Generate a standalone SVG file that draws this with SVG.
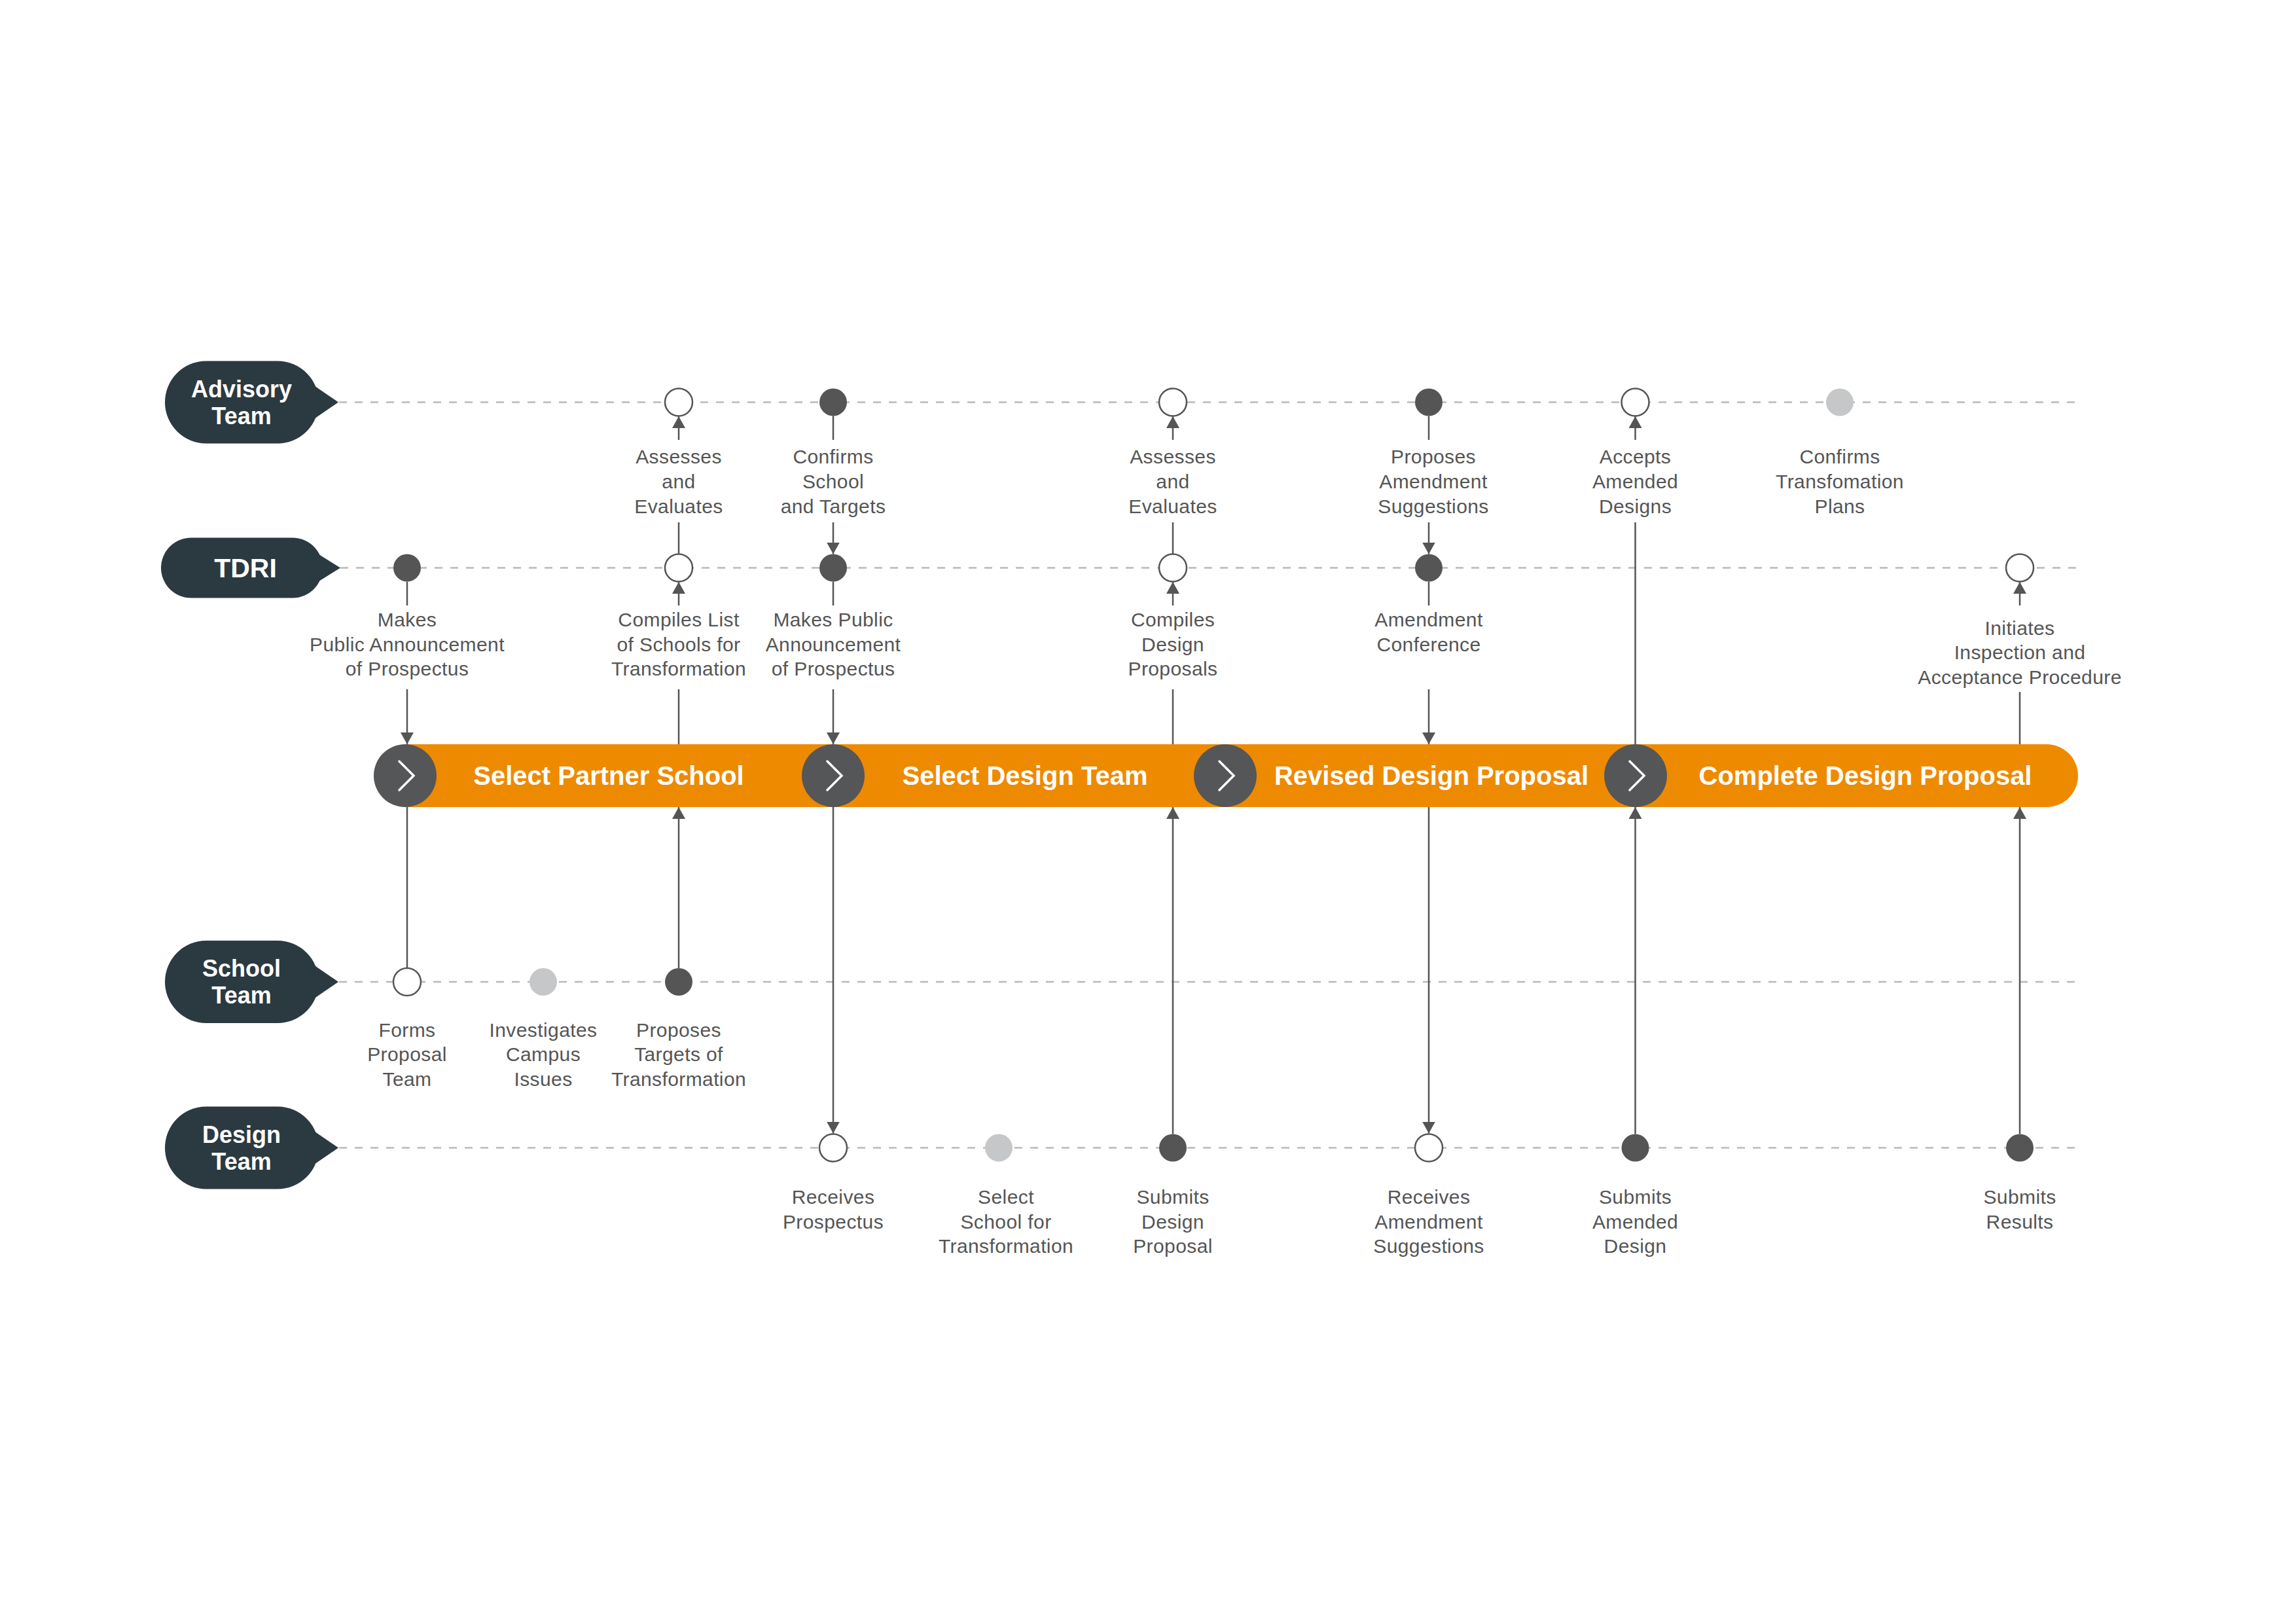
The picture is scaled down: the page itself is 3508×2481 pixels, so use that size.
<svg xmlns="http://www.w3.org/2000/svg" width="3508" height="2481" viewBox="0 0 3508 2481">
<style>
.lane{stroke:#b9b9b9;stroke-width:2.5;stroke-dasharray:12 12;fill:none}
.pill{fill:#2b3a41}
.pt{font-family:"Liberation Sans",Arial,sans-serif;font-weight:bold;fill:#ffffff;text-anchor:middle}
.lbl{font-family:"Liberation Sans",Arial,sans-serif;font-size:30px;fill:#555555;text-anchor:middle;letter-spacing:0.4px}
.hol{fill:#ffffff;stroke:#555555;stroke-width:2.5}
.drk{fill:#555555}
.gry{fill:#c6c7c8}
.con{stroke:#555555;stroke-width:2.5;fill:none}
.arr{marker-end:url(#ah)}
.bar{fill:#ee8a00}
.bc{fill:#555657}
.chev{fill:none;stroke:#ffffff;stroke-width:3.5;stroke-linecap:round;stroke-linejoin:miter}
.ph{font-family:"Liberation Sans",Arial,sans-serif;font-weight:bold;font-size:40px;fill:#ffffff;text-anchor:middle}
</style>
<defs>
<marker id="ah" viewBox="0 0 18 20" refX="18" refY="10" markerWidth="18" markerHeight="20" markerUnits="userSpaceOnUse" orient="auto">
<path d="M0,0 L18,10 L0,20 Z" fill="#555555"/>
</marker>
</defs>
<rect x="0" y="0" width="3508" height="2481" fill="#ffffff"/>

<g id="swimlanes">
<line class="lane" x1="518" y1="614.5" x2="3174" y2="614.5"/>
<line class="lane" x1="520" y1="867.5" x2="3174" y2="867.5"/>
<line class="lane" x1="518" y1="1500" x2="3174" y2="1500"/>
<line class="lane" x1="518" y1="1753.5" x2="3174" y2="1753.5"/>
</g>

<g id="lane-advisory">
<rect class="pill" x="252" y="551.5" width="235" height="126" rx="63"/>
<polygon class="pill" points="482,590.5 517,614.5 482,638.5"/>
<text class="pt" font-size="36" x="369" y="606.5">Advisory<tspan x="369" y="648">Team</tspan></text>
</g>
<g id="lane-tdri">
<rect class="pill" x="246" y="821.5" width="247" height="92" rx="46"/>
<polygon class="pill" points="488,847.5 520,867.5 488,887.5"/>
<text class="pt" font-size="41" x="375" y="882">TDRI</text>
</g>
<g id="lane-school">
<rect class="pill" x="252" y="1437" width="235" height="126" rx="63"/>
<polygon class="pill" points="482,1476 517,1500 482,1524"/>
<text class="pt" font-size="36" x="369" y="1491.5">School<tspan x="369" y="1533">Team</tspan></text>
</g>
<g id="lane-design">
<rect class="pill" x="252" y="1690.5" width="235" height="126" rx="63"/>
<polygon class="pill" points="482,1729.5 517,1753.5 482,1777.5"/>
<text class="pt" font-size="36" x="369" y="1745.5">Design<tspan x="369" y="1787">Team</tspan></text>
</g>

<g id="connectors">
<line class="con" x1="622" y1="888.5" x2="622" y2="925"/>
<line class="con arr" x1="622" y1="1053" x2="622" y2="1137"/>
<line class="con" x1="622" y1="1233" x2="622" y2="1479"/>

<line class="con arr" x1="1037" y1="672" x2="1037" y2="636"/>
<line class="con" x1="1037" y1="798" x2="1037" y2="846.5"/>
<line class="con arr" x1="1037" y1="925" x2="1037" y2="889"/>
<line class="con" x1="1037" y1="1053" x2="1037" y2="1137"/>
<line class="con arr" x1="1037" y1="1479" x2="1037" y2="1233"/>

<line class="con" x1="1273" y1="635.5" x2="1273" y2="672"/>
<line class="con arr" x1="1273" y1="798" x2="1273" y2="846.5"/>
<line class="con" x1="1273" y1="888.5" x2="1273" y2="925"/>
<line class="con arr" x1="1273" y1="1053" x2="1273" y2="1137"/>
<line class="con arr" x1="1273" y1="1233" x2="1273" y2="1731.5"/>

<line class="con arr" x1="1792" y1="672" x2="1792" y2="636"/>
<line class="con" x1="1792" y1="798" x2="1792" y2="846.5"/>
<line class="con arr" x1="1792" y1="925" x2="1792" y2="889"/>
<line class="con" x1="1792" y1="1053" x2="1792" y2="1137"/>
<line class="con arr" x1="1792" y1="1732.5" x2="1792" y2="1233"/>

<line class="con" x1="2183" y1="635.5" x2="2183" y2="672"/>
<line class="con arr" x1="2183" y1="798" x2="2183" y2="846.5"/>
<line class="con" x1="2183" y1="888.5" x2="2183" y2="925"/>
<line class="con arr" x1="2183" y1="1053" x2="2183" y2="1137"/>
<line class="con arr" x1="2183" y1="1233" x2="2183" y2="1731.5"/>

<line class="con arr" x1="2498.5" y1="672" x2="2498.5" y2="636"/>
<line class="con" x1="2498.5" y1="798" x2="2498.5" y2="1137"/>
<line class="con arr" x1="2498.5" y1="1732.5" x2="2498.5" y2="1233"/>

<line class="con arr" x1="3086" y1="925" x2="3086" y2="889"/>
<line class="con" x1="3086" y1="1057" x2="3086" y2="1137"/>
<line class="con arr" x1="3086" y1="1732.5" x2="3086" y2="1233"/>
</g>

<g id="phase-bar">
<path class="bar" d="M619,1137 H3127 A48,48 0 0 1 3127,1233 H619 Z"/>
<g id="phase-select-partner-school">
<circle class="bc" cx="619" cy="1185" r="48"/>
<polyline class="chev" points="610,1163 632,1185 610,1207"/>
<text class="ph" x="930" y="1199">Select Partner School</text>
</g>
<g id="phase-select-design-team">
<circle class="bc" cx="1273" cy="1185" r="48"/>
<polyline class="chev" points="1264,1163 1286,1185 1264,1207"/>
<text class="ph" x="1566" y="1199">Select Design Team</text>
</g>
<g id="phase-revised-design-proposal">
<circle class="bc" cx="1872" cy="1185" r="48"/>
<polyline class="chev" points="1863,1163 1885,1185 1863,1207"/>
<text class="ph" x="2187" y="1199">Revised Design Proposal</text>
</g>
<g id="phase-complete-design-proposal">
<circle class="bc" cx="2499" cy="1185" r="48"/>
<polyline class="chev" points="2490,1163 2512,1185 2490,1207"/>
<text class="ph" x="2850" y="1199">Complete Design Proposal</text>
</g>
</g>

<!-- Advisory Team events -->
<g id="adv-assesses-1">
<circle class="hol" cx="1037" cy="614.5" r="21"/>
<text class="lbl" x="1037" y="708">Assesses<tspan x="1037" y="746">and</tspan><tspan x="1037" y="783.5">Evaluates</tspan></text>
</g>
<g id="adv-confirms-school">
<circle class="drk" cx="1273" cy="614.5" r="21"/>
<text class="lbl" x="1273" y="708">Confirms<tspan x="1273" y="746">School</tspan><tspan x="1273" y="783.5">and Targets</tspan></text>
</g>
<g id="adv-assesses-2">
<circle class="hol" cx="1792" cy="614.5" r="21"/>
<text class="lbl" x="1792" y="708">Assesses<tspan x="1792" y="746">and</tspan><tspan x="1792" y="783.5">Evaluates</tspan></text>
</g>
<g id="adv-proposes-amendment">
<circle class="drk" cx="2183" cy="614.5" r="21"/>
<text class="lbl" x="2190" y="708">Proposes<tspan x="2190" y="746">Amendment</tspan><tspan x="2190" y="783.5">Suggestions</tspan></text>
</g>
<g id="adv-accepts-amended">
<circle class="hol" cx="2498.5" cy="614.5" r="21"/>
<text class="lbl" x="2498.5" y="708">Accepts<tspan x="2498.5" y="746">Amended</tspan><tspan x="2498.5" y="783.5">Designs</tspan></text>
</g>
<g id="adv-confirms-plans">
<circle class="gry" cx="2811" cy="614.5" r="21"/>
<text class="lbl" x="2811" y="708">Confirms<tspan x="2811" y="746">Transfomation</tspan><tspan x="2811" y="783.5">Plans</tspan></text>
</g>

<!-- TDRI events -->
<g id="tdri-announcement-1">
<circle class="drk" cx="622" cy="867.5" r="21"/>
<text class="lbl" x="622" y="957">Makes<tspan x="622" y="994.5">Public Announcement</tspan><tspan x="622" y="1032">of Prospectus</tspan></text>
</g>
<g id="tdri-compiles-list">
<circle class="hol" cx="1037" cy="867.5" r="21"/>
<text class="lbl" x="1037" y="957">Compiles List<tspan x="1037" y="994.5">of Schools for</tspan><tspan x="1037" y="1032">Transformation</tspan></text>
</g>
<g id="tdri-announcement-2">
<circle class="drk" cx="1273" cy="867.5" r="21"/>
<text class="lbl" x="1273" y="957">Makes Public<tspan x="1273" y="994.5">Announcement</tspan><tspan x="1273" y="1032">of Prospectus</tspan></text>
</g>
<g id="tdri-compiles-proposals">
<circle class="hol" cx="1792" cy="867.5" r="21"/>
<text class="lbl" x="1792" y="957">Compiles<tspan x="1792" y="994.5">Design</tspan><tspan x="1792" y="1032">Proposals</tspan></text>
</g>
<g id="tdri-amendment-conference">
<circle class="drk" cx="2183" cy="867.5" r="21"/>
<text class="lbl" x="2183" y="957">Amendment<tspan x="2183" y="994.5">Conference</tspan></text>
</g>
<g id="tdri-initiates-inspection">
<circle class="hol" cx="3086" cy="867.5" r="21"/>
<text class="lbl" x="3086" y="969.5">Initiates<tspan x="3086" y="1007">Inspection and</tspan><tspan x="3086" y="1044.5">Acceptance Procedure</tspan></text>
</g>

<!-- School Team events -->
<g id="school-forms-team">
<circle class="hol" cx="622" cy="1500" r="21"/>
<text class="lbl" x="622" y="1583.5">Forms<tspan x="622" y="1621">Proposal</tspan><tspan x="622" y="1658.5">Team</tspan></text>
</g>
<g id="school-investigates">
<circle class="gry" cx="830" cy="1500" r="21"/>
<text class="lbl" x="830" y="1583.5">Investigates<tspan x="830" y="1621">Campus</tspan><tspan x="830" y="1658.5">Issues</tspan></text>
</g>
<g id="school-proposes-targets">
<circle class="drk" cx="1037" cy="1500" r="21"/>
<text class="lbl" x="1037" y="1583.5">Proposes<tspan x="1037" y="1621">Targets of</tspan><tspan x="1037" y="1658.5">Transformation</tspan></text>
</g>

<!-- Design Team events -->
<g id="design-receives-prospectus">
<circle class="hol" cx="1273" cy="1753.5" r="21"/>
<text class="lbl" x="1273" y="1839">Receives<tspan x="1273" y="1876.5">Prospectus</tspan></text>
</g>
<g id="design-select-school">
<circle class="gry" cx="1526" cy="1753.5" r="21"/>
<text class="lbl" x="1537" y="1839">Select<tspan x="1537" y="1876.5">School for</tspan><tspan x="1537" y="1914">Transformation</tspan></text>
</g>
<g id="design-submits-proposal">
<circle class="drk" cx="1792" cy="1753.5" r="21"/>
<text class="lbl" x="1792" y="1839">Submits<tspan x="1792" y="1876.5">Design</tspan><tspan x="1792" y="1914">Proposal</tspan></text>
</g>
<g id="design-receives-amendment">
<circle class="hol" cx="2183" cy="1753.5" r="21"/>
<text class="lbl" x="2183" y="1839">Receives<tspan x="2183" y="1876.5">Amendment</tspan><tspan x="2183" y="1914">Suggestions</tspan></text>
</g>
<g id="design-submits-amended">
<circle class="drk" cx="2498.5" cy="1753.5" r="21"/>
<text class="lbl" x="2498.5" y="1839">Submits<tspan x="2498.5" y="1876.5">Amended</tspan><tspan x="2498.5" y="1914">Design</tspan></text>
</g>
<g id="design-submits-results">
<circle class="drk" cx="3086" cy="1753.5" r="21"/>
<text class="lbl" x="3086" y="1839">Submits<tspan x="3086" y="1876.5">Results</tspan></text>
</g>
</svg>
